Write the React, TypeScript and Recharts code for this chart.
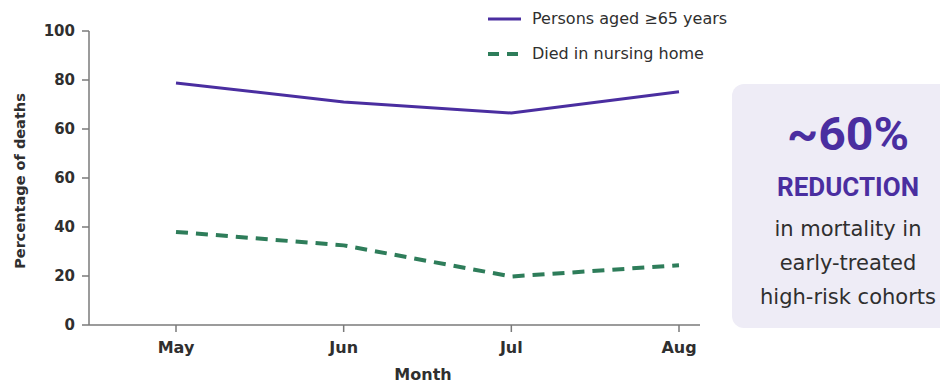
import React from "react";
import { Legend, Line, LineChart, XAxis, YAxis } from "recharts";

// monthly share of deaths
const months = ["May", "Jun", "Jul", "Aug"];
const aged65Plus = [78.8, 71, 66.5, 75.2];
const nursingHome = [38, 32.5, 19.8, 24.4];

// printed tick text, bottom to top
const yTickValues = [0, 20, 40, 60, 80, 100, 120];
const yTickLabels = ["0", "20", "40", "60", "60", "80", "100"];

const seriesNames = ["Persons aged \u226565 years", "Died in nursing home"];
const calloutLines = ["in mortality in", "early-treated", "high-risk cohorts"];

const PURPLE = "#4a2ea0";
const GREEN = "#2e7d5a";
const INK = "#2f2f2f";
const AXIS = "#7a7a7a";
const FONT = "'DejaVu Sans', Verdana, sans-serif";

const data = months.map((m, i) => ({
  month: m,
  aged: aged65Plus[i],
  nursing: nursingHome[i],
}));

function LegendBox() {
  return (
    <div style={{ fontFamily: FONT, fontSize: 16, color: INK }}>
      <div style={{ display: "flex", alignItems: "center", height: 35 }}>
        <svg width={47} height={10}>
          <line x1={3} y1={5} x2={36} y2={5} stroke={PURPLE} strokeWidth={3} />
        </svg>
        <span>{seriesNames[0]}</span>
      </div>
      <div style={{ display: "flex", alignItems: "center", height: 35 }}>
        <svg width={47} height={10}>
          <line
            x1={3}
            y1={5}
            x2={36}
            y2={5}
            stroke={GREEN}
            strokeWidth={4}
            strokeDasharray="11 8"
          />
        </svg>
        <span>{seriesNames[1]}</span>
      </div>
    </div>
  );
}

function Callout() {
  return (
    <svg
      width={220}
      height={260}
      style={{ position: "absolute", left: 728, top: 78 }}
    >
      <rect x={4} y={6} width={240} height={244} rx={12} fill="#eeecf6" />
      <text
        x={120}
        y={72}
        textAnchor="middle"
        fontFamily="Roboto, sans-serif"
        fontWeight={700}
        fontSize={47}
        fill={PURPLE}
        textLength={122}
        lengthAdjust="spacingAndGlyphs"
      >
        ~60%
      </text>
      <text
        x={120}
        y={118}
        textAnchor="middle"
        fontFamily="Roboto, sans-serif"
        fontWeight={700}
        fontSize={26}
        fill={PURPLE}
        textLength={142}
        lengthAdjust="spacingAndGlyphs"
      >
        REDUCTION
      </text>
      {calloutLines.map((t, i) => (
        <text
          key={t}
          x={120}
          y={158 + i * 34}
          textAnchor="middle"
          fontFamily={FONT}
          fontSize={21}
          fill={INK}
        >
          {t}
        </text>
      ))}
    </svg>
  );
}

export default function App() {
  return (
    <div
      style={{
        position: "absolute",
        left: 0,
        top: 0,
        width: 940,
        height: 384,
        background: "#fff",
        overflow: "hidden",
      }}
    >
      <LineChart
        width={940}
        height={384}
        data={data}
        margin={{ top: 31, right: 240, bottom: 0, left: 0 }}
      >
        <XAxis
          dataKey="month"
          height={59}
          padding={{ left: 87, right: 21 }}
          tickSize={7}
          tickMargin={10}
          axisLine={{ stroke: AXIS, strokeWidth: 1.5 }}
          tickLine={{ stroke: AXIS, strokeWidth: 1.5 }}
          tick={{ fill: INK, fontSize: 16, fontWeight: 700, fontFamily: FONT }}
          label={{
            content: () => (
              <text
                x={423}
                y={380}
                textAnchor="middle"
                fontFamily={FONT}
                fontWeight={700}
                fontSize={16}
                fill={INK}
              >
                Month
              </text>
            ),
          }}
        />
        <YAxis
          yAxisId="main"
          width={89}
          domain={[0, 120]}
          ticks={yTickValues}
          interval={0}
          tickSize={7}
          tickMargin={7}
          tickFormatter={(_v: number, i: number) => yTickLabels[i]}
          axisLine={{ stroke: AXIS, strokeWidth: 1.5 }}
          tickLine={{ stroke: AXIS, strokeWidth: 1.5 }}
          tick={{ fill: INK, fontSize: 15, fontWeight: 700, fontFamily: FONT }}
          label={{
            content: () => (
              <text
                transform="translate(25 181) rotate(-90)"
                textAnchor="middle"
                fontFamily={FONT}
                fontWeight={700}
                fontSize={14.5}
                fill={INK}
              >
                Percentage of deaths
              </text>
            ),
          }}
        />
        {/* the ≥65 series is read against the upper labels (60/80/100) */}
        <YAxis yAxisId="upper" hide domain={[-20, 100]} />
        <Legend
          layout="horizontal"
          verticalAlign="middle"
          align="center"
          wrapperStyle={{ top: 1, left: 485, width: 300 }}
          content={() => <LegendBox />}
        />
        <Line
          yAxisId="upper"
          dataKey="aged"
          name={seriesNames[0]}
          stroke={PURPLE}
          strokeWidth={3}
          dot={false}
          activeDot={false}
          type="linear"
          isAnimationActive={false}
        />
        <Line
          yAxisId="main"
          dataKey="nursing"
          name={seriesNames[1]}
          stroke={GREEN}
          strokeWidth={4}
          strokeDasharray="12 8"
          dot={false}
          activeDot={false}
          type="linear"
          isAnimationActive={false}
        />
      </LineChart>
      <Callout />
    </div>
  );
}
